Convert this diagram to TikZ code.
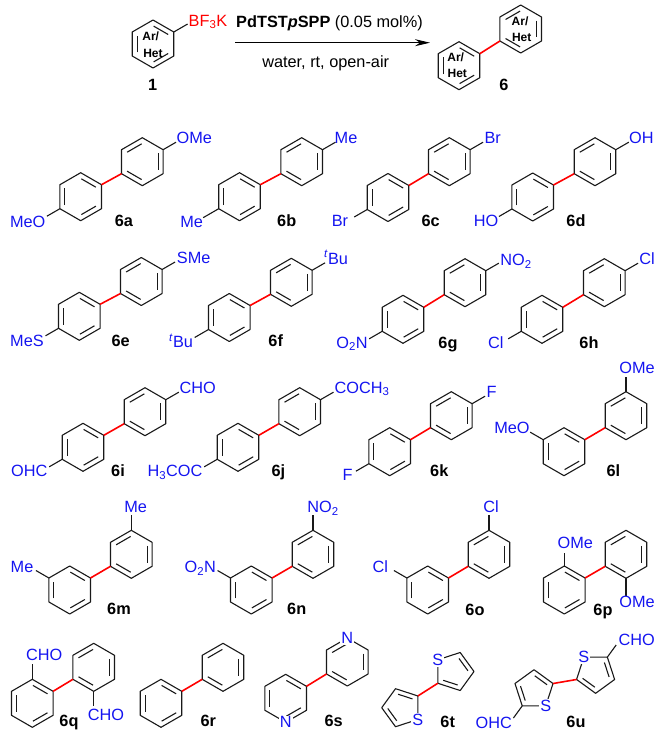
\documentclass[tikz,border=0pt]{standalone}
\usepackage{fontspec}
\setmainfont{Liberation Sans}
\usetikzlibrary{arrows.meta}
\definecolor{subblue}{RGB}{20,20,240}
\tikzset{
	bond/.style={line width=1.1pt, line join=round, black!90},
	newbond/.style={line width=1.6pt, red},
	subst/.style={text=subblue, font=\fontsize{16.3}{18}\selectfont, inner sep=0pt, anchor=base},
	hetero/.style={text=subblue, font=\fontsize{16.3}{18}\selectfont, inner sep=1pt, fill=white},
	cpd/.style={font=\fontsize{16.3}{18}\selectfont\bfseries, inner sep=0pt, anchor=base},
	cond/.style={font=\fontsize{16.3}{18}\selectfont, inner sep=0pt, anchor=base},
	arhet/.style={font=\fontsize{12}{14}\selectfont\bfseries, inner sep=0pt, anchor=base},
}
% six ring: centre, name, double bonds (angles run clockwise on the page)
\def\hexring(#1,#2)#3#4{
	\foreach \a in {30,90,...,330} \coordinate (#3-\a) at ([shift={(#1,#2)}]\a:24);
	\draw[bond] (#3-30) -- (#3-90) -- (#3-150) -- (#3-210) -- (#3-270) -- (#3-330) -- cycle;
	\foreach \a/\b in {#4} \draw[bond] ([shift={(#1,#2)}]\a+2:17.9) -- ([shift={(#1,#2)}]\b-2:17.9);
}
\def\ringA(#1,#2)#3{\hexring(#1,#2){#3}{270/330,150/210,30/90}}
\def\ringB(#1,#2)#3{\hexring(#1,#2){#3}{210/270,330/390,90/150}}
% five ring: centre, name, first angle, double bonds
\def\penring(#1,#2)#3#4#5{
	\foreach \k in {0,...,4} {
		\pgfmathtruncatemacro{\a}{#4+72*\k}
		\coordinate (#3-\a) at ([shift={(#1,#2)}]\a:20);
	}
	\pgfmathtruncatemacro{\va}{#4}\pgfmathtruncatemacro{\vb}{#4+72}\pgfmathtruncatemacro{\vc}{#4+144}\pgfmathtruncatemacro{\vd}{#4+216}\pgfmathtruncatemacro{\ve}{#4+288}
	\draw[bond] (#3-\va) -- (#3-\vb) -- (#3-\vc) -- (#3-\vd) -- (#3-\ve) -- cycle;
	\foreach \a/\b in {#5} \draw[bond] ([shift={(#1,#2)}]\a+3:13.95) -- ([shift={(#1,#2)}]\b-3:13.95);
}
% biaryl: lower ring, upper ring, name
\def\biaryl(#1,#2)(#3,#4)#5{
	\ringA(#1,#2){#5l}
	\ringB(#3,#4){#5u}
	\draw[newbond] (#5l-330) -- (#5u-150);
}

\begin{document}
\begin{tikzpicture}[x=1pt,y=-1pt]
	\useasboundingbox (0,0) rectangle (667,739);
	%%%%% SCHEME %%%%%
	\ringA(153,44){sm}
	\draw[bond] (sm-330) -- +(330:16);
	\node[subst, text=red] (bf) at (208,26) {BF\textsubscript{3}K};
	\node[arhet] (smar) at (150.7,40.7) {Ar/};
	\node[arhet] (smhet) at (153,57.7) {Het};
	\node[cpd] (one) at (152.7,90.7) {1};

	\coordinate (arrowl) at (235,42.7);
	\coordinate (arrowr) at (430,42.7);
	\draw[line width=1.1pt, -{Stealth[length=15pt,width=7pt]}] (arrowl) -- (arrowr);
	\node[cond] (cat) at (329.5,27) {\textbf{PdTST\textit{p}SPP} (0.05 mol\%)};
	\node[cond] (solv) at (325.7,67.7) {water, rt, open-air};

	\biaryl(459,65.7)(520.7,29){pr}
	\node[arhet] (plar) at (455.7,61.7) {Ar/};
	\node[arhet] (plhet) at (457.3,77.3) {Het};
	\node[arhet] (puar) at (520,25.7) {Ar/};
	\node[arhet] (puhet) at (521.7,41.7) {Het};
	\node[cpd] (six) at (504,90.7) {6};

	%%%%% ROW 1 %%%%%
	\biaryl(80.7,196.7)(142.3,161.7){a}
	\draw[bond] (au-330) -- +(330:15);
	\draw[bond] (al-150) -- +(150:15);
	\node[subst] (as1) at (194.3,143.3) {OMe};
	\node[subst] (as2) at (27.7,227) {MeO};
	\node[cpd] (la) at (124,226.7) {6a};

	\biaryl(239.5,196.7)(301.7,161.7){b}
	\draw[bond] (bu-330) -- +(330:15);
	\draw[bond] (bl-150) -- +(150:18);
	\node[subst] (bs1) at (346,143.3) {Me};
	\node[subst] (bs2) at (191.7,227) {Me};
	\node[cpd] (lb) at (286.7,226.7) {6b};

	\biaryl(388,197.5)(449.3,161.7){c}
	\draw[bond] (cu-330) -- +(330:15);
	\draw[bond] (cl-150) -- +(150:15);
	\node[subst] (cs1) at (492.7,143.3) {Br};
	\node[subst] (cs2) at (340,226.7) {Br};
	\node[cpd] (lc) at (430.7,226.7) {6c};

	\biaryl(532.7,197)(595,161.7){d}
	\draw[bond] (du-330) -- +(330:15);
	\draw[bond] (dl-150) -- +(150:15);
	\node[subst] (ds1) at (641.3,143.3) {OH};
	\node[subst] (ds2) at (486,226.7) {HO};
	\node[cpd] (ld) at (576,226.7) {6d};

	%%%%% ROW 2 %%%%%
	\biaryl(79.3,316.3)(141.3,281.5){e}
	\draw[bond] (eu-330) -- +(330:15);
	\draw[bond] (el-150) -- +(150:15);
	\node[subst] (es1) at (193.7,263.3) {SMe};
	\node[subst] (es2) at (27,346.7) {MeS};
	\node[cpd] (le) at (120.7,346.7) {6e};

	\biaryl(229.3,317.5)(291.3,282.3){f}
	\draw[bond] (fu-330) -- +(330:15);
	\draw[bond] (fl-150) -- +(150:16);
	\node[subst] (fs1) at (336,264) {\textsuperscript{\textit{t}}Bu};
	\node[subst] (fs2) at (181,347.3) {\textsuperscript{\textit{t}}Bu};
	\node[cpd] (lf) at (275.7,346.7) {6f};

	\biaryl(403,319.3)(465,282.7){g}
	\draw[bond] (gu-330) -- +(330:15);
	\draw[bond] (gl-150) -- +(150:15);
	\node[subst] (gs1) at (516,265.7) {NO\textsubscript{2}};
	\node[subst] (gs2) at (352,348.3) {O\textsubscript{2}N};
	\node[cpd] (lg) at (448,348.3) {6g};

	\biaryl(542,319.3)(604.3,282.7){h}
	\draw[bond] (hu-330) -- +(330:15);
	\draw[bond] (hl-150) -- +(150:15);
	\node[subst] (hs1) at (647,264.3) {Cl};
	\node[subst] (hs2) at (495.7,348.3) {Cl};
	\node[cpd] (lh) at (589,348.3) {6h};

	%%%%% ROW 3 %%%%%
	\biaryl(83,447.3)(145,411.7){i}
	\draw[bond] (iu-330) -- +(330:15);
	\draw[bond] (il-150) -- +(150:15);
	\node[subst] (is1) at (197.7,393.3) {CHO};
	\node[subst] (is2) at (29.3,476.7) {OHC};
	\node[cpd] (li) at (118,476.7) {6i};

	\biaryl(238,447.3)(299.7,411.7){j}
	\draw[bond] (ju-330) -- +(330:15);
	\draw[bond] (jl-150) -- +(150:15);
	\node[subst] (js1) at (362,393.3) {COCH\textsubscript{3}};
	\node[subst] (js2) at (175,476.7) {H\textsubscript{3}COC};
	\node[cpd] (lj) at (278.3,476.7) {6j};

	\biaryl(389.7,451.7)(451.3,415.7){k}
	\draw[bond] (ku-330) -- +(330:15);
	\draw[bond] (kl-150) -- +(150:15);
	\node[subst] (ks1) at (491.7,397.3) {F};
	\node[subst] (ks2) at (347.7,480.7) {F};
	\node[cpd] (lk) at (439.3,476.7) {6k};

	\biaryl(564,451.7)(626,415.7){m}
	\draw[bond] (mu-270) -- +(270:15);
	\draw[bond] (ml-210) -- +(210:15);
	\node[subst] (ms1) at (637,373.3) {OMe};
	\node[subst] (ms2) at (512,433.3) {MeO};
	\node[cpd] (ll) at (613.3,476.7) {6l};

	%%%%% ROW 4 %%%%%
	\biaryl(69.7,590)(131.3,554.3){n}
	\draw[bond] (nu-270) -- +(270:15);
	\draw[bond] (nl-210) -- +(210:15);
	\node[subst] (ns1) at (135.7,512.7) {Me};
	\node[subst] (ns2) at (22,572.7) {Me};
	\node[cpd] (lm) at (119,614) {6m};

	\biaryl(251.3,590)(313,554.3){o}
	\draw[bond] (ou-270) -- +(270:15);
	\draw[bond] (ol-210) -- +(210:15);
	\node[subst] (os1) at (323,512.7) {NO\textsubscript{2}};
	\node[subst] (os2) at (200.3,572.7) {O\textsubscript{2}N};
	\node[cpd] (ln) at (296.7,614) {6n};

	\biaryl(427.7,590)(489,554.3){p}
	\draw[bond] (pu-270) -- +(270:15);
	\draw[bond] (pl-210) -- +(210:15);
	\node[subst] (ps1) at (491,512.7) {Cl};
	\node[subst] (ps2) at (380.3,572.7) {Cl};
	\node[cpd] (lo) at (475,615) {6o};

	\biaryl(564.3,590)(626,554.3){q}
	\draw[bond] (ql-270) -- +(270:13);
	\draw[bond] (qu-90) -- +(90:18);
	\node[subst] (qs1) at (575.3,548.3) {OMe};
	\node[subst] (qs2) at (637,607.7) {OMe};
	\node[cpd] (lp) at (603,615) {6p};

	%%%%% ROW 5 %%%%%
	\biaryl(32.3,703.3)(93.7,667.3){r}
	\draw[bond] (rl-270) -- +(270:15);
	\draw[bond] (ru-90) -- +(90:15);
	\node[subst] (rs1) at (44.3,660.7) {CHO};
	\node[subst] (rs2) at (106,720.7) {CHO};
	\node[cpd] (lq) at (69,726.7) {6q};

	\biaryl(161,703.3)(223,667.3){s}
	\node[cpd] (lr) at (208.3,726.7) {6r};

	\biaryl(285.7,698.3)(347.3,662){v}
	\node[hetero] (vn1) at (vl-90) {N};
	\node[hetero] (vn2) at (vu-270) {N};
	\node[cpd] (ls) at (333.7,726.7) {6s};

	\penring(454,671.5){tu}{0}{72/144,288/360}
	\penring(401.7,707.7){tl}{36}{252/324,108/180}
	\draw[newbond] (tl-324) -- (tu-144);
	\node[hetero] (ts1) at (tu-216) {S};
	\node[hetero] (ts2) at (tl-36) {S};
	\node[cpd] (lt) at (447.7,727.3) {6t};

	\penring(534,689.7){wl}{54}{270/342,126/198}
	\penring(595.6,673.3){wu}{18}{90/162,306/378}
	\draw[newbond] (wl-342) -- (wu-162);
	\node[hetero] (ws1) at (wl-54) {S};
	\node[hetero] (ws2) at (wu-234) {S};
	\draw[bond] (wl-126) -- +(126:15);
	\draw[bond] (wu-306) -- +(306:15);
	\node[subst] (ws3) at (636.7,645) {CHO};
	\node[subst] (ws4) at (493.7,728.3) {OHC};
	\node[cpd] (lu) at (576,727.3) {6u};
\end{tikzpicture}
\end{document}
